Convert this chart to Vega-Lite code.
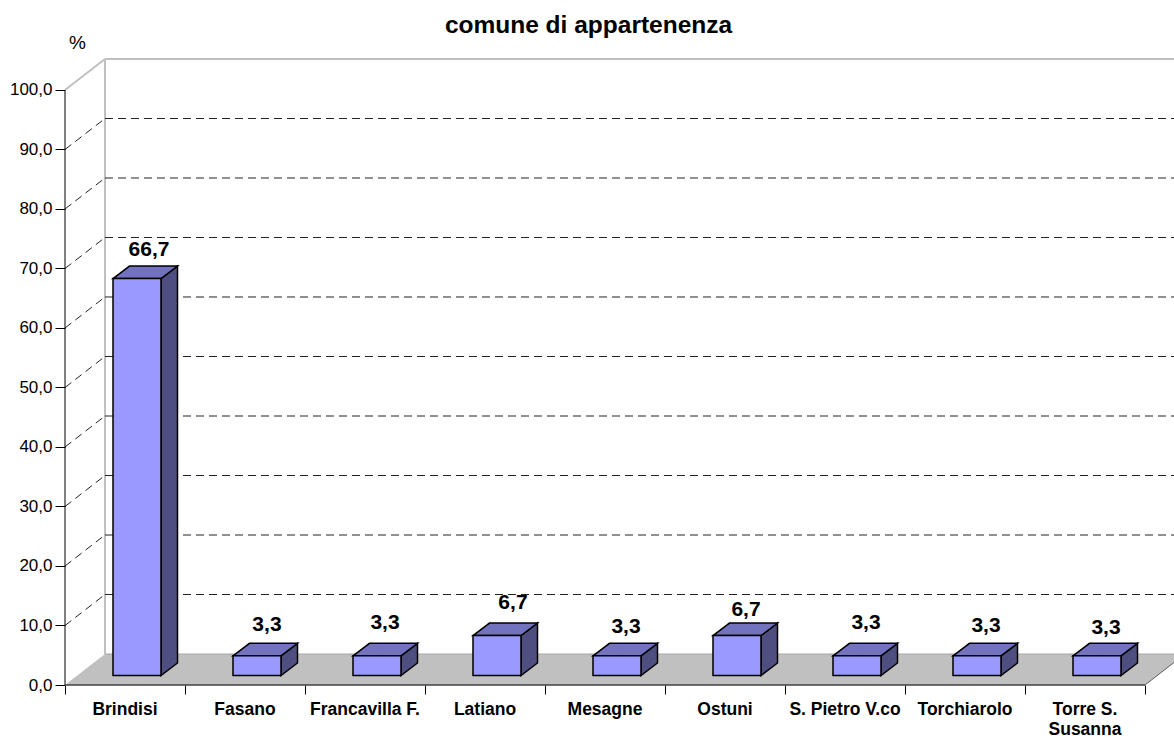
{
"$schema":"https://vega.github.io/schema/vega-lite/v6.json",
"width":1109,"height":627,"autosize":"none",
"padding":{"left":65,"top":58,"right":0,"bottom":53},
"background":"white",
"title":{"text":"comune di appartenenza","font":"Liberation Sans","fontSize":24.5,"fontWeight":"bold","color":"black","anchor":"middle","dx":-31,"offset":-5},
"config":{"view":{"stroke":null},"font":"Liberation Sans"},
"datasets":{
"bars":[
{"i":0,"category":"Brindisi","value":66.7},
{"i":1,"category":"Fasano","value":3.3},
{"i":2,"category":"Francavilla F.","value":3.3},
{"i":3,"category":"Latiano","value":6.7},
{"i":4,"category":"Mesagne","value":3.3},
{"i":5,"category":"Ostuni","value":6.7},
{"i":6,"category":"S. Pietro V.co","value":3.3},
{"i":7,"category":"Torchiarolo","value":3.3},
{"i":8,"category":"Torre S.\nSusanna","value":3.3}
],
"floor":[
{"x":0,"y":0,"y2":0},
{"x":0.3333,"y":5.21,"y2":0},
{"x":9,"y":5.21,"y2":0},
{"x":9.3333,"y":5.21,"y2":5.21}
],
"frame":[
{"x":0,"y":100,"x2":0.3333,"y2":105.21},
{"x":0.3333,"y":105.21,"x2":9.2417,"y2":105.21},
{"x":0.3333,"y":5.21,"x2":0.3333,"y2":105.21}
],
"grid":[{"v":10},{"v":20},{"v":30},{"v":40},{"v":50},{"v":60},{"v":70},{"v":80},{"v":90}]
},
"encoding":{
"x":{"field":"x","type":"quantitative","scale":{"domain":[0,9.2417],"nice":false,"zero":false},
"axis":{"values":[0,1,2,3,4,5,6,7,8,9],"labels":false,"domain":false,"grid":false,"title":null,"tickSize":9,"tickColor":"black","tickWidth":1}},
"y":{"field":"y","type":"quantitative","stack":null,"scale":{"domain":[0,105.378],"nice":false,"zero":false},
"axis":{"values":[0,10,20,30,40,50,60,70,80,90,100],"labelExpr":"replace(format(datum.value,'.1f'),'.',',')","labelFont":"Liberation Sans","labelFontSize":17,"labelColor":"black","labelPadding":3,"domain":false,"grid":false,"tickSize":10,"tickColor":"black","tickWidth":1,"title":"%","titleFont":"Liberation Sans","titleFontSize":19,"titleFontWeight":"normal","titleColor":"black","titleAngle":0,"titleX":12,"titleY":-16,"titleAlign":"center","titleBaseline":"middle"}}
},
"layer":[
{"data":{"name":"floor"},"mark":{"type":"area","color":"#C0C0C0","clip":true},"encoding":{"y2":{"field":"y2"}}},
{"data":{"values":[{"x":9,"y":0,"x2":9.3333,"y2":5.21}]},"mark":{"type":"rule","color":"#606060","strokeWidth":1,"clip":true},"encoding":{"x2":{"field":"x2"},"y2":{"field":"y2"}}},
{"data":{"values":[{"x":0.3333,"y":5.21,"x2":9.2417}]},"mark":{"type":"rule","color":"#A6A6A6","strokeWidth":1},"encoding":{"x2":{"field":"x2"}}},
{"data":{"name":"frame"},"mark":{"type":"rule","color":"#C0C0C0","strokeWidth":2},"encoding":{"x2":{"field":"x2"},"y2":{"field":"y2"}}},
{"data":{"name":"grid"},"transform":[{"calculate":"0.3333","as":"x"},{"calculate":"9.2417","as":"x2"},{"calculate":"datum.v+5.21","as":"y"}],
"mark":{"type":"rule","color":"#222222","strokeWidth":1,"strokeDash":[8,5]},"encoding":{"x2":{"field":"x2"}}},
{"data":{"name":"grid"},"transform":[{"calculate":"0","as":"x"},{"calculate":"0.3333","as":"x2"},{"calculate":"datum.v","as":"y"},{"calculate":"datum.v+5.21","as":"y2"}],
"mark":{"type":"rule","color":"#222222","strokeWidth":1,"strokeDash":[8,5]},"encoding":{"x2":{"field":"x2"},"y2":{"field":"y2"}}},
{"data":{"name":"bars"},"transform":[
{"calculate":"[0,1]","as":"k"},{"flatten":["k"]},
{"calculate":"datum.i+0.8+datum.k*0.1375","as":"x"},
{"calculate":"datum.value+1.6+datum.k*2.1","as":"y"},
{"calculate":"1.6+datum.k*2.1","as":"y2"}],
"mark":{"type":"area","color":"#4E4E80","stroke":"black","strokeWidth":1.5,"strokeJoin":"miter"},
"encoding":{"y2":{"field":"y2"},"detail":{"field":"category"}}},
{"data":{"name":"bars"},"transform":[
{"calculate":"[0,1,2,3]","as":"k"},{"flatten":["k"]},
{"calculate":"[datum.i+0.4,datum.i+0.5375,datum.i+0.8,datum.i+0.9375][datum.k]","as":"x"},
{"calculate":"datum.value+1.6+(datum.k>0?2.1:0)","as":"y"},
{"calculate":"datum.value+1.6+(datum.k>2?2.1:0)","as":"y2"}],
"mark":{"type":"area","color":"#7272BE","stroke":"black","strokeWidth":1.5,"strokeJoin":"miter"},
"encoding":{"y2":{"field":"y2"},"detail":{"field":"category"}}},
{"data":{"name":"bars"},"transform":[
{"calculate":"datum.i+0.4","as":"x"},{"calculate":"datum.i+0.8","as":"x2"},
{"calculate":"datum.value+1.6","as":"y"},{"calculate":"1.6","as":"y2"}],
"mark":{"type":"rect","color":"#9999FF","stroke":"black","strokeWidth":1.5},
"encoding":{"x2":{"field":"x2"},"y2":{"field":"y2"}}},
{"data":{"values":[{"x":0,"y":0,"y2":100}]},"mark":{"type":"rule","color":"black","strokeWidth":1},"encoding":{"y2":{"field":"y2"}}},
{"data":{"values":[{"x":0,"x2":9,"y":0}]},"mark":{"type":"rule","color":"#404040","strokeWidth":1.5},"encoding":{"x2":{"field":"x2"}}},
{"data":{"name":"bars"},"transform":[{"calculate":"datum.i+0.5","as":"x"},{"calculate":"0","as":"y"}],
"mark":{"type":"text","font":"Liberation Sans","fontWeight":"bold","fontSize":17.5,"color":"black","dy":30,"baseline":"alphabetic","lineBreak":"\n","lineHeight":20},
"encoding":{"text":{"field":"category"}}},
{"data":{"name":"bars"},"transform":[
{"calculate":"datum.i+[0.7,0.683,0.667,0.733,0.675,0.675,0.675,0.675,0.675][datum.i]","as":"x"},
{"calculate":"datum.value+[6.45,6.8,7.15,7.1,6.45,5.95,7.15,6.65,6.3][datum.i]","as":"y"},
{"calculate":"replace(format(datum.value,'.1f'),'.',',')","as":"label"}],
"mark":{"type":"text","font":"Liberation Sans","fontWeight":"bold","fontSize":21,"color":"black","baseline":"middle"},
"encoding":{"text":{"field":"label"}}}
]
}
